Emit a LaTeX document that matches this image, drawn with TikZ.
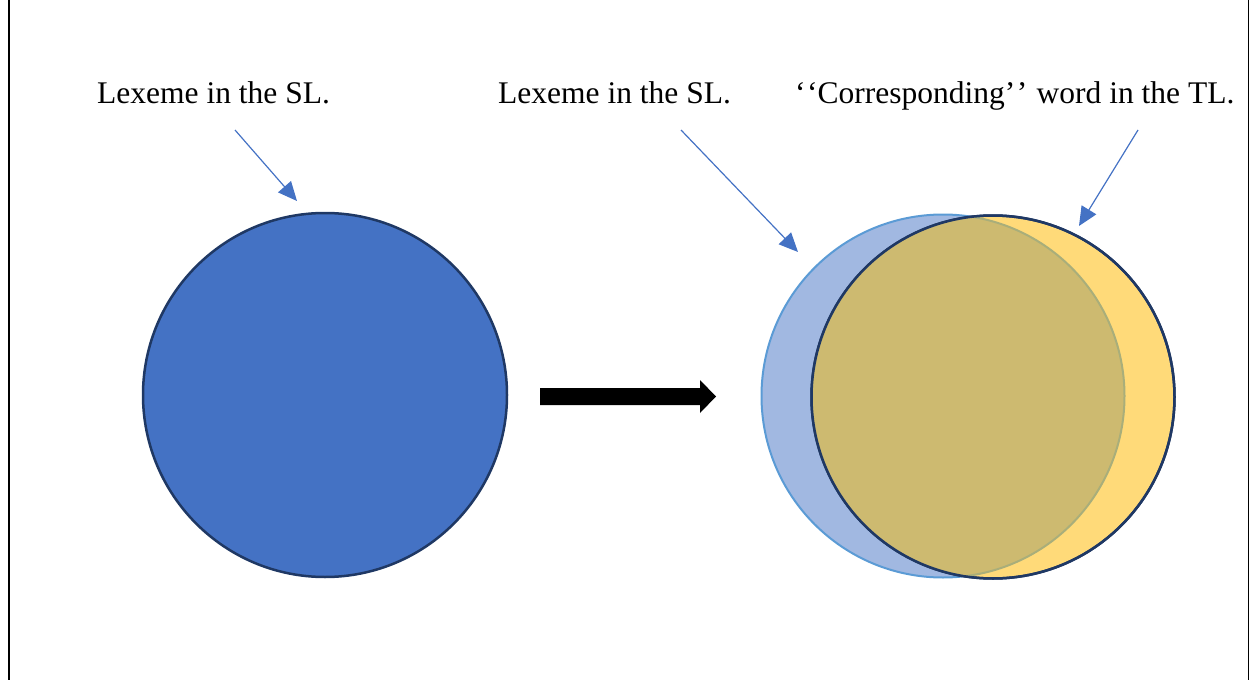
\documentclass[tikz,border=0pt]{standalone}
\usepackage{fontspec}
\setmainfont{Liberation Serif}
\usetikzlibrary{arrows.meta}
\definecolor{mblue}{HTML}{4472C4}
\definecolor{navy}{HTML}{1F3864}
\definecolor{lblue}{HTML}{A1B8E1}
\definecolor{lbborder}{HTML}{5B9BD5}
\definecolor{yel}{HTML}{FFDA79}
\definecolor{overlap}{HTML}{CDBA70}
\definecolor{olborder}{HTML}{A9AE7A}
\tikzset{
  lbl/.style={anchor=base west, inner sep=0pt, font=\fontsize{31.5}{38}\selectfont},
  ptr/.style={draw=mblue, line width=1.2pt, -{Triangle[length=19pt,width=17pt]}},
  disc/.style={circle, inner sep=0pt, outer sep=0pt, minimum size=363pt},
  frame/.style={draw=black}
}
\begin{document}
\begin{tikzpicture}[x=1pt,y=-1pt]
\useasboundingbox (0,0) rectangle (1251,680);
% frame lines
\coordinate (fl1) at (9,0); \coordinate (fl2) at (9,680);
\coordinate (fr1) at (1248,0); \coordinate (fr2) at (1248,680);
\draw[frame, line width=2.5pt] (fl1) -- (fl2);
\draw[frame, line width=1pt] (fr1) -- (fr2);
% labels
\node[lbl] (t1) at (97,103) {Lexeme in the SL.};
\node[lbl] (t2) at (498,103) {Lexeme in the SL.};
\node[lbl] (t3) at (795,103) {‘\kern1.5pt‘Corresponding’\kern1.5pt’\kern1.5pt{} word in the TL.};
% left circle
\node[disc, minimum size=364pt, fill=mblue, draw=navy, line width=2.5pt] (c1) at (325,395) {};
% right circles
\node[disc, fill=lblue, draw=lbborder, line width=2pt] (c2) at (943,396) {};
\node[disc, fill=yel, draw=navy, line width=2.5pt] (c3) at (993,397) {};
\begin{scope}
  \clip (c3.center) circle[radius=181.5pt];
  \fill[overlap] (c2.center) circle[radius=181.5pt];
  \draw[olborder, line width=2pt] (c2.center) circle[radius=181.5pt];
\end{scope}
\draw[navy, line width=2.5pt] (c3.center) circle[radius=181.5pt];
% pointer arrows
\coordinate (p1s) at (235,130); \coordinate (p1e) at (297,201);
\coordinate (p2s) at (681,130); \coordinate (p2e) at (798,252);
\coordinate (p3s) at (1138,130); \coordinate (p3e) at (1079,226);
\draw[ptr] (p1s) -- (p1e);
\draw[ptr] (p2s) -- (p2e);
\draw[ptr] (p3s) -- (p3e);
% block arrow
\fill[black] (540,388) -- (700,388) -- (700,380) -- (716,396.5) -- (700,413) -- (700,405) -- (540,405) -- cycle;
\end{tikzpicture}
\end{document}
